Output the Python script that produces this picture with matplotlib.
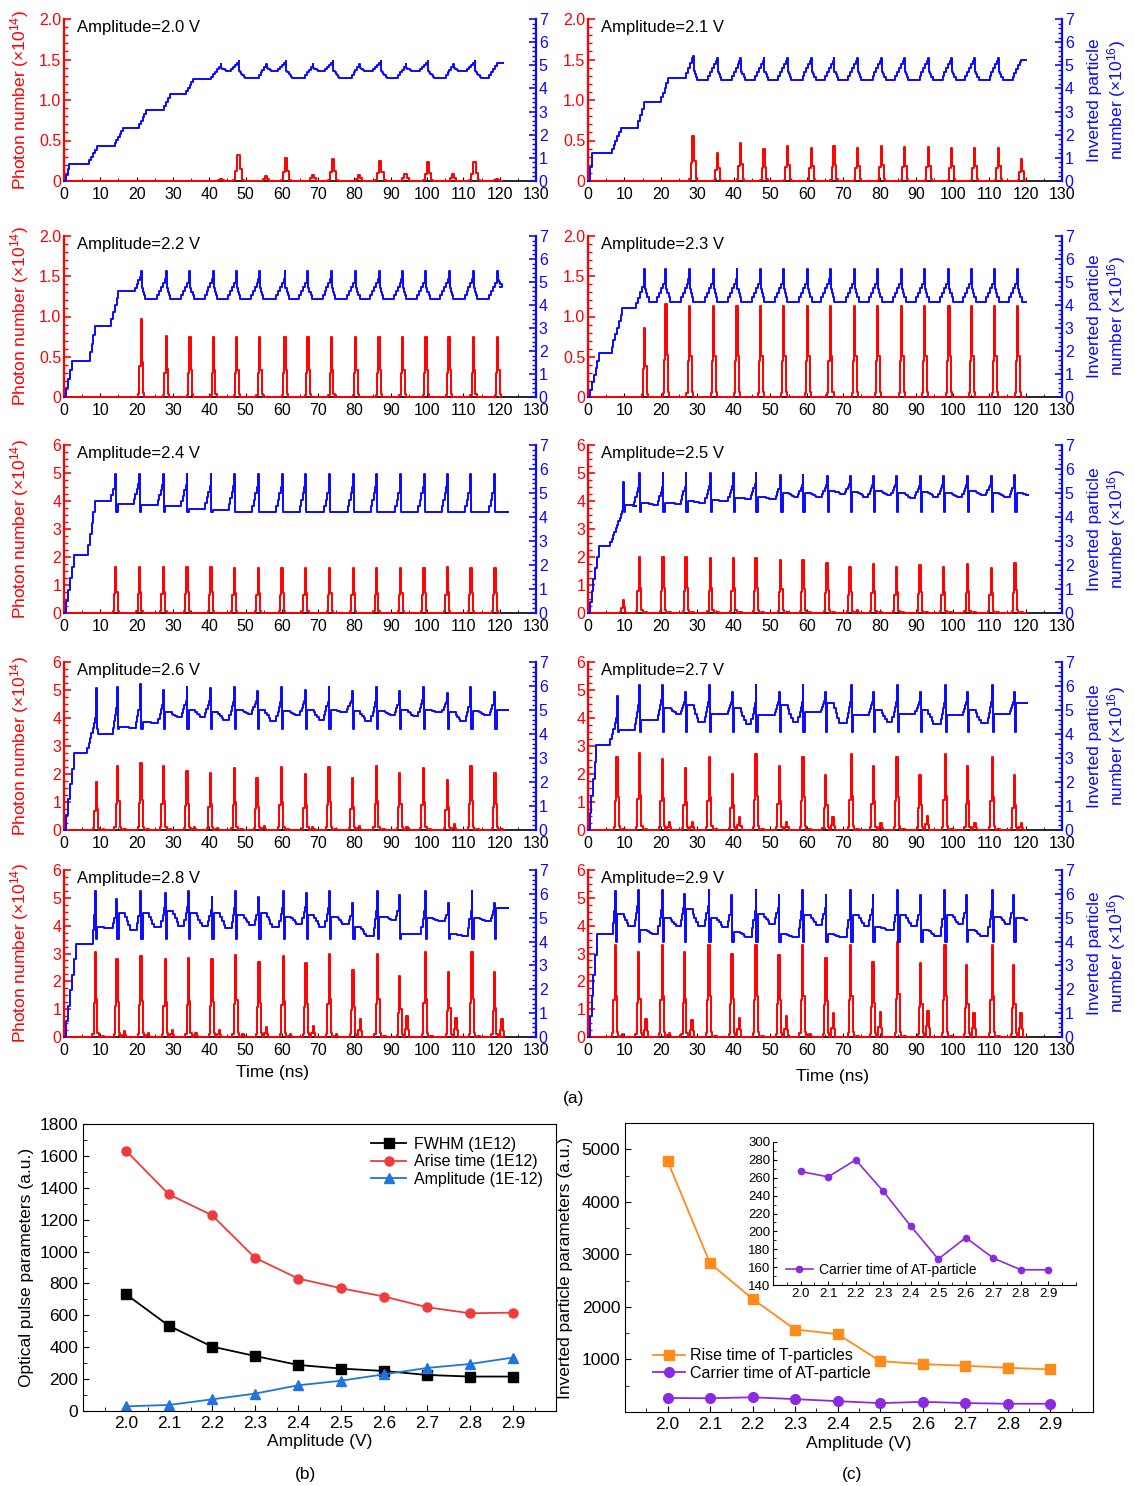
import numpy as np
import matplotlib
matplotlib.use("Agg")
import matplotlib.pyplot as plt
from matplotlib.ticker import MultipleLocator, FuncFormatter

plt.rcParams['font.family'] = ['Liberation Sans', 'DejaVu Sans']
plt.rcParams['mathtext.default'] = 'regular'

# ---------------- (a) time traces, one entry per amplitude ----------------
amplitudes = ['2.0', '2.1', '2.2', '2.3', '2.4', '2.5', '2.6', '2.7', '2.8', '2.9']
photon_max = [2, 2, 2, 2, 6, 6, 6, 6, 6, 6]

# staircase build-up of the inverted particle number (plateau start, end, level)
build_start = [[1.5, 9.0, 16.3, 22.6, 29.2, 35.5], [1.2, 9.0, 15.3, 22.0], [2.2, 8.6, 15.0],
               [3.1, 9.4], [2.7, 8.6], [2.9], [2.7], [2.3], [3.2], [2.4]]
build_end = [[6.5, 13.5, 20.3, 27.0, 33.2, 40.0], [6.0, 13.3, 19.6, 26.5], [6.6, 12.6, 19.0],
             [6.0, 12.8], [6.1, 12.6], [5.8], [6.1], [5.8], [7.5], [6.5]]
build_level = [[0.75, 1.5, 2.3, 3.05, 3.75, 4.4], [1.2, 2.3, 3.4, 4.45], [1.55, 3.1, 4.6],
               [1.9, 3.85], [2.4, 4.65], [2.8], [3.2], [3.55], [3.9], [4.3]]

# optical pulses: time (ns) and peak photon number (x1e14)
pulse_t = [
    [43.2, 48.1, 55.7, 61.1, 68.5, 74.1, 81.3, 87.2, 94.1, 100.2, 107.2, 113.1, 119.2],
    [28.9, 35.5, 41.9, 48.3, 54.7, 61.3, 67.5, 73.9, 80.5, 86.8, 93.4, 99.7, 106.0, 112.6, 118.9],
    [21.3, 28.2, 34.7, 41.2, 47.6, 53.9, 60.9, 67.2, 73.7, 80.4, 86.8, 93.3, 99.7, 106.1, 112.8, 119.5],
    [15.6, 21.4, 27.9, 34.5, 40.9, 47.4, 53.7, 60.3, 66.5, 73.2, 79.5, 86.1, 92.4, 99.0, 105.3, 111.6, 117.9],
    [14.3, 20.8, 27.4, 33.9, 40.5, 46.9, 53.5, 60.1, 66.5, 73.2, 79.7, 86.1, 92.8, 99.2, 105.6, 112.1, 118.7],
    [9.7, 14.1, 20.6, 26.9, 33.6, 39.9, 46.1, 52.9, 59.0, 65.6, 71.9, 78.3, 84.6, 91.1, 97.5, 104.1, 110.6, 117.1],
    [8.9, 14.8, 21.2, 27.4, 33.9, 40.3, 47.0, 53.2, 59.9, 66.5, 73.0, 79.4, 86.1, 92.5, 99.0, 105.6, 112.1, 118.7],
    [8.0, 14.1, 20.4, 26.7, 33.3, 39.6, 46.1, 52.5, 59.0, 65.2, 72.2, 78.3, 84.8, 91.1, 98.0, 104.1, 110.9, 116.9],
    [8.7, 14.6, 21.2, 27.9, 34.3, 40.8, 47.3, 53.7, 60.4, 66.7, 73.1, 79.6, 86.4, 92.5, 99.5, 106.0, 112.4, 118.6],
    [7.5, 13.9, 20.4, 26.5, 33.2, 39.5, 46.1, 52.4, 58.9, 65.3, 72.1, 78.2, 85.0, 91.3, 97.9, 103.9, 110.9, 116.8],
]
pulse_h = [
    [0.03, 0.32, 0.06, 0.28, 0.08, 0.27, 0.07, 0.25, 0.09, 0.23, 0.09, 0.23, 0.02],
    [0.55, 0.35, 0.47, 0.39, 0.43, 0.41, 0.43, 0.41, 0.43, 0.42, 0.42, 0.41, 0.41, 0.41, 0.27],
    [0.97, 0.76, 0.74, 0.74, 0.74, 0.74, 0.74, 0.74, 0.74, 0.74, 0.74, 0.74, 0.74, 0.74, 0.74, 0.74],
    [0.86, 1.15, 1.13, 1.13, 1.13, 1.13, 1.13, 1.13, 1.13, 1.13, 1.13, 1.13, 1.13, 1.13, 1.13, 1.13, 1.13],
    [1.66, 1.66, 1.66, 1.66, 1.65, 1.6, 1.6, 1.62, 1.62, 1.62, 1.62, 1.62, 1.6, 1.62, 1.65, 1.62, 1.62],
    [0.45, 2.0, 2.0, 2.0, 1.98, 1.95, 1.95, 1.9, 1.9, 1.8, 1.65, 1.75, 1.65, 1.7, 1.65, 1.75, 1.62, 1.8],
    [1.7, 2.3, 2.4, 2.3, 2.1, 2.05, 2.2, 1.85, 2.25, 2.0, 2.25, 1.85, 2.3, 2.05, 2.2, 1.8, 2.3, 2.05],
    [2.6, 2.75, 2.55, 2.2, 2.6, 2.0, 2.7, 2.3, 2.6, 1.95, 2.7, 2.3, 2.6, 1.95, 2.7, 2.3, 2.6, 1.95],
    [3.05, 2.8, 2.9, 2.8, 2.85, 2.8, 2.95, 2.7, 2.9, 2.65, 3.0, 2.4, 3.0, 2.2, 3.05, 2.35, 3.05, 2.35],
    [3.3, 3.05, 3.3, 3.05, 3.3, 3.0, 3.3, 2.95, 3.3, 2.85, 3.3, 2.7, 3.4, 2.65, 3.3, 2.6, 3.3, 2.6],
]
# small after-pulses (x1e14), empty when none
pulse_sec = [
    [], [], [], [], [],
    [0.0, 0.05, 0.05, 0.05, 0.05, 0.05, 0.05, 0.05, 0.05, 0.05, 0.1, 0.05, 0.05, 0.05, 0.05, 0.05, 0.05, 0.05],
    [0.03, 0.05, 0.05, 0.05, 0.1, 0.08, 0.05, 0.15, 0.05, 0.12, 0.05, 0.15, 0.05, 0.1, 0.05, 0.2, 0.05, 0.05],
    [0.05, 0.05, 0.3, 0.3, 0.05, 0.45, 0.05, 0.3, 0.05, 0.45, 0.05, 0.25, 0.05, 0.5, 0.05, 0.25, 0.05, 0.25],
    [0.02, 0.2, 0.15, 0.25, 0.15, 0.25, 0.1, 0.35, 0.1, 0.4, 0.1, 0.65, 0.05, 0.75, 0.05, 0.7, 0.05, 0.65],
    [0.1, 0.65, 0.15, 0.6, 0.05, 0.7, 0.05, 0.75, 0.1, 0.85, 0.05, 0.9, 0.05, 0.95, 0.05, 0.85, 0.05, 0.85],
]
# inverted particle number (x1e16): level just before each pulse, level after it
blue_peak = [
    [5.05, 5.2, 5.05, 5.2, 5.05, 5.2, 5.05, 5.2, 5.05, 5.2, 5.05, 5.2, 5.1],
    [5.4, 5.3, 5.3, 5.3, 5.3, 5.3, 5.3, 5.3, 5.3, 5.3, 5.3, 5.3, 5.3, 5.3, 5.25],
    [5.5, 5.5, 5.5, 5.5, 5.5, 5.5, 5.5, 5.5, 5.5, 5.5, 5.5, 5.5, 5.5, 5.5, 5.5, 5.5],
    [5.55, 5.55, 5.55, 5.55, 5.55, 5.55, 5.55, 5.55, 5.55, 5.55, 5.55, 5.55, 5.55, 5.55, 5.55, 5.55, 5.55],
    [5.8, 5.8, 5.8, 5.8, 5.8, 5.8, 5.8, 5.8, 5.8, 5.8, 5.8, 5.8, 5.8, 5.8, 5.8, 5.8, 5.8],
    [5.45, 5.85, 5.85, 5.85, 5.85, 5.85, 5.85, 5.75, 5.75, 5.7, 5.7, 5.7, 5.7, 5.7, 5.7, 5.7, 5.7, 5.75],
    [5.9, 5.95, 6.1, 5.85, 5.95, 5.9, 5.95, 5.8, 5.95, 5.85, 5.95, 5.8, 5.95, 5.8, 5.95, 5.7, 5.95, 5.75],
    [5.6, 6.05, 6.05, 5.75, 6.05, 5.75, 6.05, 5.75, 6.05, 5.75, 6.05, 5.75, 6.05, 5.75, 6.05, 5.75, 6.05, 5.75],
    [6.1, 5.8, 6.1, 6.05, 6.1, 5.85, 6.1, 5.85, 6.1, 6.05, 6.1, 5.6, 6.1, 5.95, 6.1, 5.6, 6.1, 5.6],
    [6.1, 6.15, 6.15, 6.0, 6.15, 5.95, 6.15, 5.95, 6.15, 5.95, 6.15, 5.95, 6.15, 5.95, 6.15, 5.95, 6.15, 5.95],
]
blue_base = [
    [4.75, 4.45, 4.75, 4.45, 4.75, 4.45, 4.75, 4.45, 4.75, 4.45, 4.75, 4.45, 5.1],
    [4.35, 4.35, 4.35, 4.35, 4.35, 4.35, 4.35, 4.35, 4.35, 4.35, 4.35, 4.35, 4.35, 4.35, 5.25],
    [4.25, 4.25, 4.25, 4.25, 4.25, 4.25, 4.25, 4.25, 4.25, 4.25, 4.25, 4.25, 4.25, 4.25, 4.25, 4.8],
    [4.15, 4.15, 4.15, 4.15, 4.15, 4.15, 4.15, 4.15, 4.15, 4.15, 4.15, 4.15, 4.15, 4.15, 4.15, 4.15, 4.15],
    [4.55, 4.5, 4.45, 4.35, 4.3, 4.2, 4.2, 4.2, 4.2, 4.2, 4.2, 4.2, 4.2, 4.2, 4.2, 4.2, 4.2],
    [4.45, 4.5, 4.55, 4.6, 4.65, 4.75, 4.75, 4.85, 4.85, 4.95, 4.85, 4.9, 4.8, 4.85, 4.85, 4.9, 4.85, 4.9],
    [4.0, 4.25, 4.45, 4.7, 4.7, 4.6, 4.85, 4.55, 4.8, 4.6, 4.9, 4.55, 4.8, 4.75, 4.9, 4.55, 4.8, 5.0],
    [4.15, 4.6, 4.85, 4.5, 4.85, 4.4, 4.8, 4.5, 4.9, 4.45, 4.8, 4.5, 4.85, 4.4, 4.8, 4.45, 4.85, 5.3],
    [4.55, 4.5, 4.6, 4.65, 4.65, 4.55, 4.7, 4.6, 4.75, 4.6, 4.75, 4.25, 4.9, 4.3, 4.85, 4.25, 4.85, 5.4],
    [4.65, 4.3, 4.65, 4.65, 4.6, 4.2, 4.75, 4.2, 4.7, 4.2, 4.65, 4.5, 4.65, 4.25, 4.75, 4.25, 4.75, 4.9],
]
# short rebound right after a pulse (None -> falls back to the base level in steps)
blue_bump = [
    None, None, None, None,
    [4.55, 4.5, 4.45, 4.35, 4.3, 4.2, 4.2, 4.2, 4.2, 4.2, 4.2, 4.2, 4.2, 4.2, 4.2, 4.2, 4.2],
    [4.5, 4.6, 4.6, 4.65, 4.7, 4.8, 4.85, 5.0, 5.0, 5.1, 5.05, 5.1, 5.0, 5.05, 5.0, 5.1, 5.0, 5.0],
    [4.0, 4.3, 4.5, 4.9, 5.0, 4.9, 5.0, 5.0, 4.95, 5.0, 5.0, 4.95, 4.95, 5.0, 5.0, 4.9, 4.95, 5.0],
    [4.15, 4.6, 5.1, 5.2, 4.85, 5.1, 4.8, 5.2, 4.9, 5.3, 4.8, 5.0, 4.85, 5.0, 4.8, 5.0, 4.85, 5.3],
    [4.6, 5.2, 5.2, 5.3, 5.2, 5.2, 5.1, 5.2, 5.05, 5.1, 5.05, 4.6, 5.05, 4.3, 5.0, 4.3, 5.0, 5.4],
    [5.15, 4.5, 5.0, 5.35, 5.0, 4.4, 5.15, 4.3, 5.1, 4.3, 5.1, 4.6, 5.1, 4.5, 5.1, 4.5, 5.05, 5.0],
]
blue_dip = [None, None, None, None, 4.2, 4.2, 4.2, 4.1, 4.1, 4.0]

# drawing style of the traces (not data)
ramp_len = [2.6, 3.0, 3.0, 3.0, 2.0, 1.8, 1.8, 1.6, 1.5, 1.5]
ramp_step = [0.55, 0.55, 0.5, 0.5, 0.4, 0.35, 0.35, 0.35, 0.35, 0.35]
spike_frac = [0.0, 0.1, 0.3, 0.3, 0.35, 0.45, 0.45, 0.45, 0.45, 0.45]
fall_len = [1.6, 1.0, 0.9, 0.9, 0, 0, 0, 0, 0, 0]
pulse_width = [1.6, 1.2, 1.0, 1.0, 1.0, 1.0, 1.0, 1.0, 1.0, 1.0]
t_end = 120.0

# ---------------- (b) and (c) ----------------
volts = [2.0, 2.1, 2.2, 2.3, 2.4, 2.5, 2.6, 2.7, 2.8, 2.9]
volt_labels = ['2.0', '2.1', '2.2', '2.3', '2.4', '2.5', '2.6', '2.7', '2.8', '2.9']
fwhm = [732, 534, 404, 345, 289, 266, 251, 226, 216, 216]
arise_time = [1632, 1358, 1228, 961, 831, 770, 718, 651, 613, 617]
pulse_amp = [29, 38, 73, 109, 161, 190, 230, 270, 295, 335]
rise_time_T = [4778, 2829, 2152, 1570, 1481, 968, 911, 880, 842, 810]
carrier_time_AT = [267, 261, 280, 245, 206, 169, 193, 170, 157, 157]


def add_ramp(ts, vs, t0, t1, v0, v1, dt):
    n = max(int(round((t1 - t0) / dt)), 1)
    for i in range(1, n + 1):
        ts.append(t0 + (t1 - t0) * i / n)
        vs.append(v0 + (v1 - v0) * i / n)


def red_trace(k):
    ts, vs = [0.0], [0.0]
    w = pulse_width[k]
    sec = pulse_sec[k]
    for i, (T, h) in enumerate(zip(pulse_t[k], pulse_h[k])):
        for dt, f in zip([-0.9, -0.55, -0.2, 0.15, 0.5, 0.85], [0.04, 0.4, 1.0, 0.45, 0.05, 0.0]):
            ts.append(T + dt * w)
            vs.append(f * h)
        if sec and sec[i] > 0:
            s = sec[i]
            for dt, f in zip([1.4, 1.8, 2.2, 2.5], [0.4, 1.0, 0.35, 0.0]):
                ts.append(T + dt)
                vs.append(f * s)
    ts.append(t_end)
    vs.append(0.0)
    return ts, vs


def blue_trace(k):
    ts, vs = [0.0], [0.0]
    t, lev = 0.0, 0.0
    for s, e, lv in zip(build_start[k], build_end[k], build_level[k]):
        add_ramp(ts, vs, t, s, lev, lv, 0.5)
        t, lev = e, lv
    T, P, B = pulse_t[k], blue_peak[k], blue_base[k]
    bump, dip = blue_bump[k], blue_dip[k]
    sf, st = spike_frac[k], ramp_step[k]

    def rise(t0, t1, v0, v1):
        if sf > 0:
            vm = v0 + (v1 - v0) * (1 - sf)
            add_ramp(ts, vs, t0, t1 - 0.35, v0, vm, st)
            ts.append(t1 - 0.15)
            vs.append(v1)
        else:
            add_ramp(ts, vs, t0, t1, v0, v1, st)

    rise(t, T[0], lev, P[0])
    for i in range(len(T)):
        if dip is None:
            fl = fall_len[k]
            ts.append(T[i] + 0.1)
            vs.append(B[i] + 0.4 * (P[i] - B[i]))
            add_ramp(ts, vs, T[i] + 0.1, T[i] + 0.1 + fl, vs[-1], B[i], 0.35)
        else:
            ts += [T[i] + 0.1, T[i] + 0.45]
            vs += [dip, bump[i]]
            add_ramp(ts, vs, T[i] + 1.8, T[i] + 3.6, bump[i], B[i], 0.45)
        if i + 1 < len(T):
            rise(T[i + 1] - ramp_len[k], T[i + 1], B[i], P[i + 1])
    ts.append(t_end)
    vs.append(vs[-1])
    return ts, vs


W, H = 1135, 1486
fig = plt.figure(figsize=(W / 100, H / 100), dpi=100)


def rect(x0, y0, x1, y1):
    return [x0 / W, 1 - y1 / H, (x1 - x0) / W, (y1 - y0) / H]


col_x = [(64, 536), (588, 1062)]
row_y = [(19, 181), (236, 397), (445, 613), (662, 830), (870, 1037)]
RED = '#ff0000'
BLUE = '#0a0aff'

for k in range(10):
    r, c = divmod(k, 2)
    ax = fig.add_axes(rect(col_x[c][0], row_y[r][0], col_x[c][1], row_y[r][1]))
    ax2 = ax.twinx()

    rt, rv = red_trace(k)
    bt, bv = blue_trace(k)
    ax.plot(rt, rv, color=RED, lw=1.4, drawstyle='steps-post', clip_on=False, zorder=3)
    ax2.plot(bt, bv, color=BLUE, lw=1.4, drawstyle='steps-post', clip_on=False)

    ax.set_xlim(0, 130)
    ax.set_ylim(0, photon_max[k])
    ax2.set_ylim(0, 7)

    for s in ['top', 'right']:
        ax.spines[s].set_visible(False)
    ax.spines['left'].set_color(RED)
    ax.spines['left'].set_linewidth(1.6)
    ax.spines['bottom'].set_linewidth(1.2)
    for s in ['top', 'left', 'bottom']:
        ax2.spines[s].set_visible(False)
    ax2.spines['right'].set_color(BLUE)
    ax2.spines['right'].set_linewidth(1.6)

    ax.xaxis.set_major_locator(MultipleLocator(10))
    ax.xaxis.set_minor_locator(MultipleLocator(5))
    ax.tick_params(axis='x', which='both', direction='in', labelsize=11.5, pad=4)
    ax.tick_params(axis='x', which='major', length=3)
    ax.tick_params(axis='x', which='minor', length=2)

    if photon_max[k] == 2:
        ax.yaxis.set_major_locator(MultipleLocator(0.5))
        ax.yaxis.set_minor_locator(MultipleLocator(0.1))
        ax.yaxis.set_major_formatter(FuncFormatter(lambda v, p: '0' if abs(v) < 1e-9 else f'{v:.1f}'))
    else:
        ax.yaxis.set_major_locator(MultipleLocator(1))
        ax.yaxis.set_minor_locator(MultipleLocator(0.25))
        ax.yaxis.set_major_formatter(FuncFormatter(lambda v, p: f'{v:.0f}'))
    ax.tick_params(axis='y', which='both', direction='in', colors=RED, labelsize=11.5, pad=2)
    ax.tick_params(axis='y', which='major', length=5, width=1.2)
    ax.tick_params(axis='y', which='minor', length=3, width=1)

    ax2.yaxis.set_major_locator(MultipleLocator(1))
    ax2.yaxis.set_minor_locator(MultipleLocator(0.2))
    ax2.tick_params(axis='y', which='both', direction='in', colors=BLUE, labelsize=11.5, pad=2)
    ax2.tick_params(axis='y', which='major', length=5, width=1.2)
    ax2.tick_params(axis='y', which='minor', length=3, width=1)

    if c == 0:
        ax.set_ylabel('Photon number (×10$^{14}$)', color=RED, fontsize=12.5)
        ax.yaxis.set_label_coords(-0.07, 0.5)
    else:
        ax2.set_ylabel('Inverted particle\nnumber (×10$^{16}$)', color=BLUE, fontsize=12.5)
        ax2.yaxis.set_label_coords(1.052, 0.5)

    ax2.text(0.028, 0.95, f'Amplitude={amplitudes[k]} V', transform=ax.transAxes,
             fontsize=12, ha='left', va='center')

fig.text(273 / W, 1 - 1073 / H, 'Time (ns)', fontsize=12.5, ha='center', va='center')
fig.text(832 / W, 1 - 1077 / H, 'Time (ns)', fontsize=12.5, ha='center', va='center')
fig.text(574 / W, 1 - 1098 / H, '(a)', fontsize=12.5, ha='center', va='center')

# ---------------- (b) optical pulse parameters ----------------
axb = fig.add_axes(rect(83, 1124, 556, 1411))
axb.plot(volts, fwhm, '-s', color='black', ms=6.5, lw=1.3, label='FWHM (1E12)')
axb.plot(volts, arise_time, '-o', color='#ee3b3b', ms=6.5, lw=1.3, label='Arise time (1E12)')
axb.plot(volts, pulse_amp, '-^', color='#1f74e0', ms=7, lw=1.3, label='Amplitude (1E-12)')
axb.set_xlim(1.9, 3.0)
axb.set_ylim(0, 1800)
axb.set_xticks(volts)
axb.set_xticklabels(volt_labels)
axb.xaxis.set_minor_locator(MultipleLocator(0.05))
axb.yaxis.set_major_locator(MultipleLocator(200))
axb.yaxis.set_minor_locator(MultipleLocator(100))
axb.tick_params(which='both', direction='in', labelsize=12.5)
axb.tick_params(which='major', length=4)
axb.tick_params(which='minor', length=3)
axb.set_xlabel('Amplitude (V)', fontsize=12.5, labelpad=2)
axb.set_ylabel('Optical pulse parameters (a.u.)', fontsize=12.5, labelpad=4)
axb.legend(loc='upper right', bbox_to_anchor=(1.0, 1.0), frameon=False, fontsize=11.5,
           handlelength=2.2, handletextpad=0.5, labelspacing=0.15, borderaxespad=0.4)
fig.text(305 / W, 1 - 1474 / H, '(b)', fontsize=12.5, ha='center', va='center')

# ---------------- (c) inverted particle parameters ----------------
axc = fig.add_axes(rect(625, 1123, 1093, 1412))
axc.plot(volts, rise_time_T, '-s', color='#ff8c1a', ms=7, lw=1.3, label='Rise time of T-particles')
axc.plot(volts, carrier_time_AT, '-o', color='#8a2be2', ms=7, lw=1.3, label='Carrier time of AT-particle')
axc.set_xlim(1.9, 3.0)
axc.set_ylim(0, 5500)
axc.set_xticks(volts)
axc.set_xticklabels(volt_labels)
axc.xaxis.set_minor_locator(MultipleLocator(0.05))
axc.set_yticks([1000, 2000, 3000, 4000, 5000])
axc.yaxis.set_minor_locator(MultipleLocator(500))
axc.tick_params(which='both', direction='in', labelsize=12.5)
axc.tick_params(which='major', length=4)
axc.tick_params(which='minor', length=3)
axc.set_xlabel('Amplitude (V)', fontsize=12.5, labelpad=3)
axc.set_ylabel('Inverted particle parameters (a.u.)', fontsize=12.5, labelpad=6)
axc.legend(loc='center left', bbox_to_anchor=(0.03, 0.165), frameon=False, fontsize=11.5,
           handlelength=2.0, handletextpad=0.3, labelspacing=0.15)
fig.text(852 / W, 1 - 1474 / H, '(c)', fontsize=12.5, ha='center', va='center')

axi = fig.add_axes(rect(773, 1142, 1076, 1285))
axi.set_facecolor('none')
axi.plot(volts, carrier_time_AT, '-o', color='#8a2be2', ms=4.5, lw=1.2, label='Carrier time of AT-particle')
axi.set_xlim(1.9, 3.0)
axi.set_ylim(140, 300)
axi.set_xticks(volts)
axi.set_xticklabels(volt_labels)
axi.xaxis.set_minor_locator(MultipleLocator(0.05))
axi.yaxis.set_major_locator(MultipleLocator(20))
axi.yaxis.set_minor_locator(MultipleLocator(10))
axi.spines['top'].set_visible(False)
axi.spines['right'].set_visible(False)
axi.tick_params(which='both', direction='in', labelsize=9.5, pad=2)
axi.tick_params(which='major', length=3)
axi.tick_params(which='minor', length=2)
axi.legend(loc='lower left', bbox_to_anchor=(0.0, -0.03), frameon=False, fontsize=10,
           handlelength=2.0, handletextpad=0.4)

fig.savefig('out.png', dpi=100)
